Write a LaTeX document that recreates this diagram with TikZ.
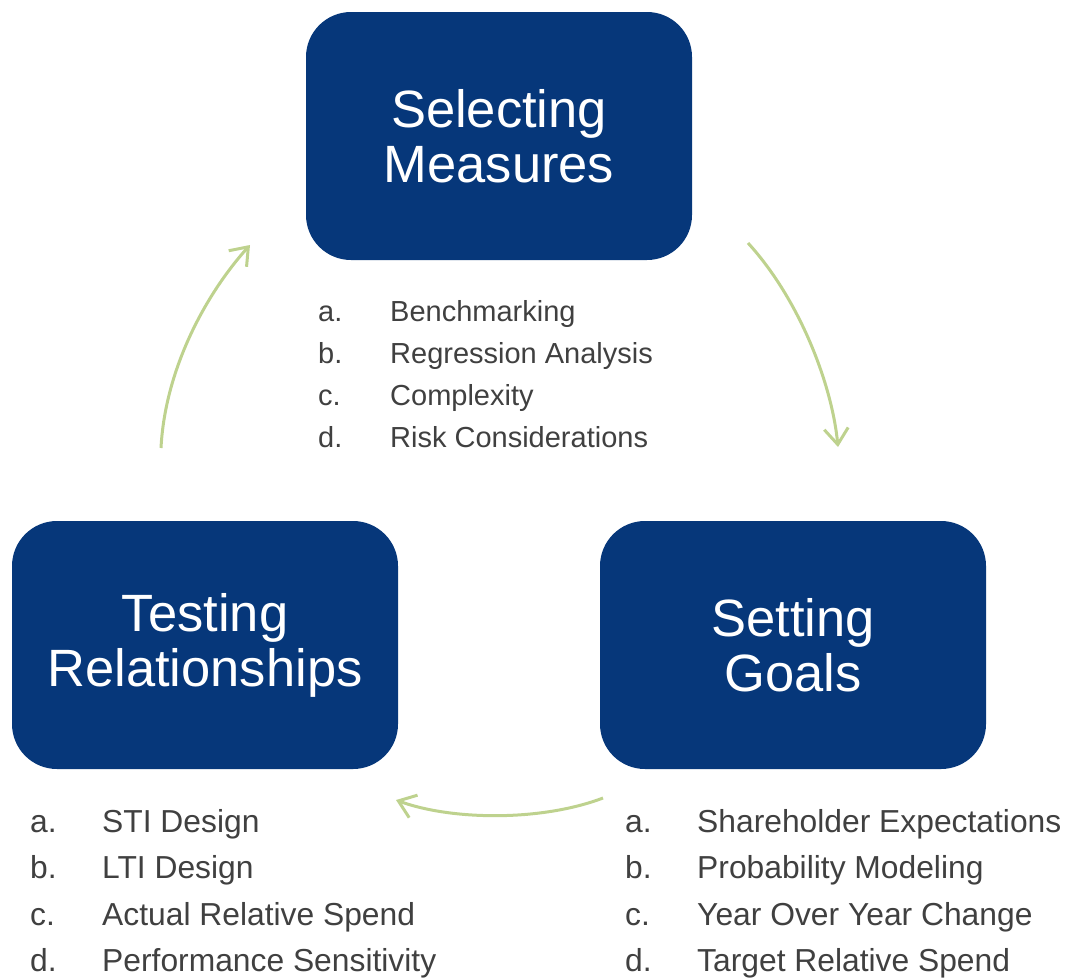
\documentclass[tikz,border=0pt]{standalone}
\usepackage{fontspec}
\setmainfont{Liberation Sans}
\usetikzlibrary{arrows.meta}
\definecolor{boxblue}{RGB}{6,55,122}
\definecolor{arrowgreen}{RGB}{190,210,142}
\definecolor{itemgrey}{RGB}{64,64,64}
\begin{document}
\begin{tikzpicture}[x=1pt,y=-1pt,
    box/.style={fill=boxblue,rounded corners=45pt,minimum width=386pt,
      minimum height=248pt,inner sep=0pt,text=white,align=center,
      font=\fontsize{52.5}{55}\selectfont},
    item/.style={anchor=base west,inner sep=0pt,text=itemgrey},
    topitem/.style={item,font=\fontsize{29}{35}\selectfont},
    lowitem/.style={item,font=\fontsize{31.8}{38}\selectfont},
    flow/.style={arrowgreen,line width=3pt,
      -{Straight Barb[length=16pt,width=24pt]}}]
  \useasboundingbox (0,0) rectangle (1067,977);

  % the three steps
  \node[box] (sm) at (499,136) {Selecting\\Measures};
  \node[box] (sg) at (793,645) {Setting\\Goals};
  \node[box] (tr) at (205,645) {Testing\\Relationships};

  % sub points under each step
  \foreach \l/\t [count=\i] in {a./Benchmarking,b./Regression Analysis,
      c./Complexity,d./Risk Considerations}{
    \node[topitem] (sm-l\i) at (318,{321+42*(\i-1)}) {\l};
    \node[topitem] (sm-t\i) at (390,{321+42*(\i-1)}) {\t};
  }
  \foreach \l/\t [count=\i] in {a./Shareholder Expectations,
      b./Probability Modeling,c./Year Over Year Change,
      d./Target Relative Spend}{
    \node[lowitem] (sg-l\i) at (625,{832+46.5*(\i-1)}) {\l};
    \node[lowitem] (sg-t\i) at (697,{832+46.5*(\i-1)}) {\t};
  }
  \foreach \l/\t [count=\i] in {a./STI Design,b./LTI Design,
      c./Actual Relative Spend,d./Performance Sensitivity}{
    \node[lowitem] (tr-l\i) at (30,{832+46.5*(\i-1)}) {\l};
    \node[lowitem] (tr-t\i) at (102,{832+46.5*(\i-1)}) {\t};
  }

  % cycle arrows
  \coordinate (sm-out) at (748,243);
  \coordinate (sg-in) at (838,447);
  \coordinate (sg-out) at (603,798);
  \coordinate (tr-in) at (396,800);
  \coordinate (tr-out) at (161,448);
  \coordinate (sm-in) at (250,245);
  \begin{scope}[flow]
    \draw (sm-out) .. controls (800,300) and (832,385) .. (sg-in);
    \draw (sg-out) .. controls (540,822) and (450,820) .. (tr-in);
    \draw (tr-out) .. controls (165,370) and (205,295) .. (sm-in);
  \end{scope}
\end{tikzpicture}
\end{document}
